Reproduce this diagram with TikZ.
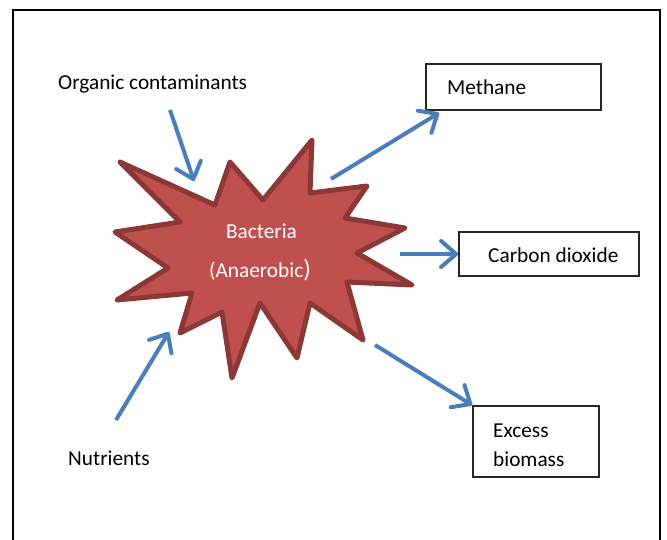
\documentclass[tikz,border=0pt]{standalone}
\usepackage{fontspec}
\setmainfont{Carlito}
\usetikzlibrary{arrows.meta,calc}

\definecolor{starfill}{HTML}{C0504D}
\definecolor{starline}{HTML}{8C3836}
\definecolor{flowblue}{HTML}{4A7EBB}
\definecolor{boxline}{HTML}{262626}

\tikzset{
  lbl/.style={inner sep=0pt, anchor=base west, font=\fontsize{21.3}{25}\selectfont},
  outbox/.style={draw=boxline, line width=1.8pt, inner sep=0pt},
  flow/.style={draw=flowblue, line width=4pt,
    -{Straight Barb[length=15pt,width=26pt,line cap=round,line join=round]}},
  startext/.style={inner sep=0pt, anchor=base, text=white, font=\fontsize{21.3}{25}\selectfont},
}

\begin{document}
\begin{tikzpicture}[x=1pt,y=-1pt]
\useasboundingbox (0,0) rectangle (667,540);
\fill[white] (0,0) rectangle (667,540);

% page frame
\draw[line width=2.4pt] (13,540) -- (13,10) -- (660,10) -- (660,540);

% explosion shape
\draw[fill=starfill, draw=starline, line width=5pt, line join=round]
  (120,162) -- (215,205) -- (230,162) -- (263,200) -- (312,140) -- (310,193)
  -- (367,186) -- (345,218) -- (405,228) -- (357,253) -- (412,285) -- (347,282)
  -- (363,340) -- (310,303) -- (297,358) -- (260,303) -- (232,378) -- (222,312)
  -- (180,333) -- (192,293) -- (117,300) -- (168,268) -- (115,232) -- (180,222)
  -- cycle;
\node[startext] (bact) at (261.5,239) {Bacteria};
\node[startext] (anaer) at (260,277) {(Anaerobic{\fontsize{25}{25}\selectfont)}};

% inputs
\node[lbl] (organic) at (58,90) {Organic contaminants};
\node[lbl] (nutr) at (68,465) {Nutrients};

% product boxes
\node[outbox, minimum width=175pt, minimum height=46pt] (methane) at (513.5,87) {};
\node[lbl] (methanetxt) at (447,95) {Methane};
\node[outbox, minimum width=180pt, minimum height=44pt] (co2) at (549,254) {};
\node[lbl] (co2txt) at (488,262) {Carbon dioxide};
\node[outbox, minimum width=126pt, minimum height=71pt] (biom) at (536,441.5) {};
\node[lbl] (biomtxt1) at (493,437) {Excess};
\node[lbl] (biomtxt2) at (493,466) {biomass};

% arrow ends
\coordinate (orgS) at (170,110);
\coordinate (orgT) at (194,181);
\coordinate (nutS) at (116,420);
\coordinate (nutT) at (169,332);
\coordinate (methS) at (331,179);
\coordinate (co2S) at (400,254);
\coordinate (biomS) at (375,345);

\draw[flow] (orgS) -- (orgT);
\draw[flow] (nutS) -- (nutT);
\draw[flow] (methS) -- ($(methane.south west)+(14,2)$);
\draw[flow] (co2S) -- (co2.west);
\draw[flow] (biomS) -- (biom.north west);
\end{tikzpicture}
\end{document}
